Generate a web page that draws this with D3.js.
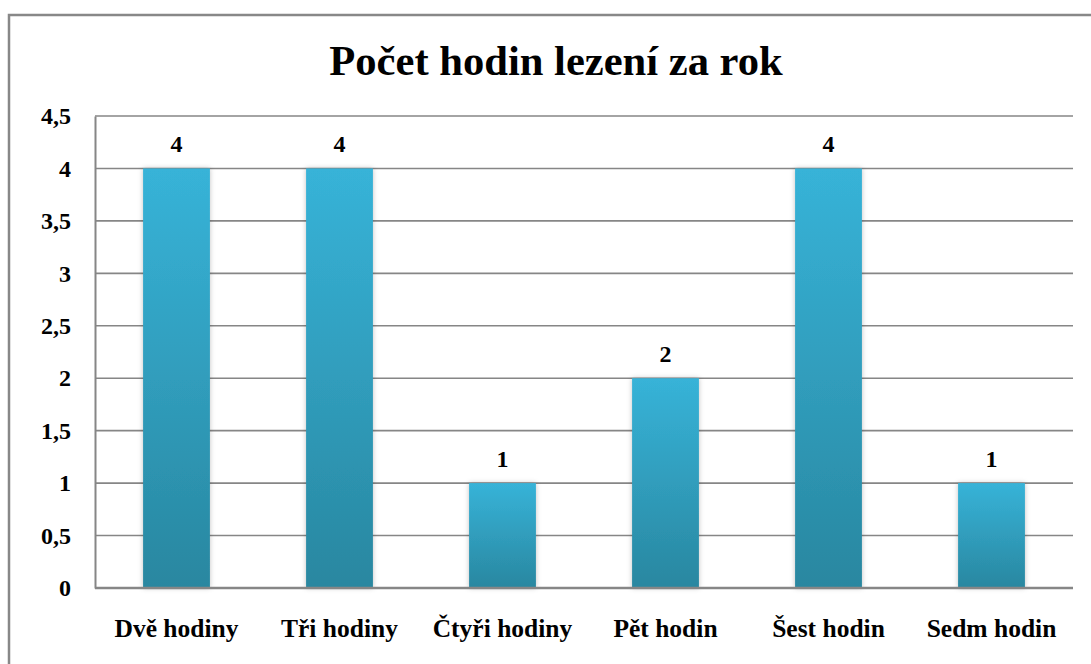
<!DOCTYPE html>
<html>
<head>
<meta charset="utf-8">
<script src="https://cdn.jsdelivr.net/npm/d3@7"></script>
<style>
  body { margin: 0; background: #fff; }
  text { font-family: "Liberation Serif", "Times New Roman", serif; font-weight: bold; fill: #000; }
</style>
</head>
<body>
<svg id="chart" width="1091" height="664"></svg>
<script>
// Data
const categories = ["Dvě hodiny", "Tři hodiny", "Čtyři hodiny", "Pět hodin", "Šest hodin", "Sedm hodin"];
const values = [4, 4, 1, 2, 4, 1];
const yTicks = [0, 0.5, 1, 1.5, 2, 2.5, 3, 3.5, 4, 4.5];
const title = "Počet hodin lezení za rok";

const svg = d3.select("#chart");
const width = +svg.attr("width");
const height = +svg.attr("height");

const plot = { left: 95, right: 1073, top: 116, bottom: 588 };

// outer frame (right and bottom edges fall outside the picture)
svg.append("path")
    .attr("d", `M9,${height + 5} V15 H${width + 5}`)
    .attr("fill", "none")
    .attr("stroke", "#888")
    .attr("stroke-width", 2.5);

svg.append("text")
    .attr("x", 556)
    .attr("y", 75)
    .attr("text-anchor", "middle")
    .style("font-size", "42.6px")
    .text(title);

const x = d3.scaleBand()
    .domain(categories)
    .range([plot.left, plot.right])
    .paddingInner(0.59)
    .paddingOuter(0.295);

const y = d3.scaleLinear()
    .domain([0, 4.5])
    .range([plot.bottom, plot.top]);

const defs = svg.append("defs");
const grad = defs.append("linearGradient")
    .attr("id", "barGrad")
    .attr("x1", 0).attr("y1", 0)
    .attr("x2", 0).attr("y2", 1);
grad.append("stop").attr("offset", "0%").attr("stop-color", "#37b3d8");
grad.append("stop").attr("offset", "100%").attr("stop-color", "#2987a0");

const shadow = defs.append("filter")
    .attr("id", "shadow")
    .attr("x", "-20%").attr("y", "-5%")
    .attr("width", "140%").attr("height", "110%");
shadow.append("feDropShadow")
    .attr("dx", 0).attr("dy", 0)
    .attr("stdDeviation", 2.5)
    .attr("flood-color", "#000")
    .attr("flood-opacity", 0.25);

// gridlines
svg.append("g")
    .selectAll("line")
    .data(yTicks.filter(d => d > 0))
    .join("line")
    .attr("x1", plot.left)
    .attr("x2", plot.right)
    .attr("y1", d => y(d))
    .attr("y2", d => y(d))
    .attr("stroke", "#868686")
    .attr("stroke-width", 1.6);

// y axis
const yAxis = svg.append("g")
    .attr("transform", `translate(${plot.left},0)`)
    .call(d3.axisLeft(y)
        .tickValues(yTicks)
        .tickSize(0)
        .tickPadding(24)
        .tickFormat(d => String(d).replace(".", ",")));
yAxis.select(".domain").attr("stroke", "#868686").attr("stroke-width", 2);
yAxis.selectAll("text")
    .style("font-size", "24px")
    .style("font-family", "'Liberation Serif', 'Times New Roman', serif");

// bars
svg.append("g")
    .selectAll("rect")
    .data(values)
    .join("rect")
    .attr("x", (d, i) => x(categories[i]))
    .attr("y", d => y(d))
    .attr("width", x.bandwidth())
    .attr("height", d => y(0) - y(d))
    .attr("fill", "url(#barGrad)")
    .attr("filter", "url(#shadow)");

// x axis line
svg.append("line")
    .attr("x1", plot.left)
    .attr("x2", plot.right)
    .attr("y1", y(0))
    .attr("y2", y(0))
    .attr("stroke", "#868686")
    .attr("stroke-width", 2.5);

// value labels
svg.append("g")
    .selectAll("text")
    .data(values)
    .join("text")
    .attr("x", (d, i) => x(categories[i]) + x.bandwidth() / 2)
    .attr("y", d => y(d) - 16)
    .attr("text-anchor", "middle")
    .style("font-size", "24px")
    .text(d => d);

// category labels
svg.append("g")
    .selectAll("text")
    .data(categories)
    .join("text")
    .attr("x", d => x(d) + x.bandwidth() / 2)
    .attr("y", 637)
    .attr("text-anchor", "middle")
    .style("font-size", "25.5px")
    .text(d => d);
</script>
</body>
</html>
